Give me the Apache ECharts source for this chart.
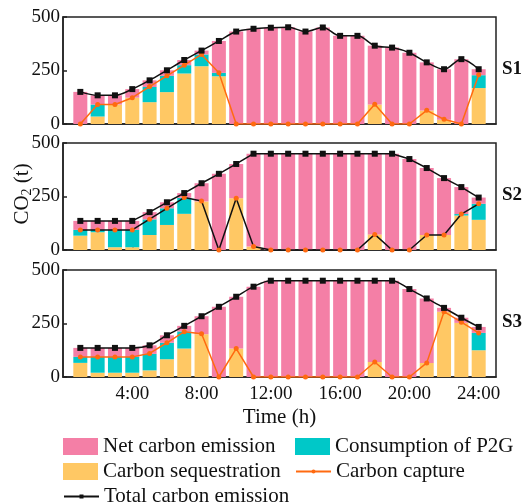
<!DOCTYPE html>
<html>
<head>
<meta charset="utf-8">
<script src="https://cdn.jsdelivr.net/npm/echarts@6/dist/echarts.min.js"></script>
<style>
html, body { margin: 0; padding: 0; background: #fff; }
#chart { width: 523px; height: 504px; }
</style>
</head>
<body>
<div id="chart"></div>
<script>
// x slots 0..25, data lives on hours 1..24
const slots = ['0', '1', '2', '3', '4', '5', '6', '7', '8', '9', '10', '11', '12',
               '13', '14', '15', '16', '17', '18', '19', '20', '21', '22', '23', '24', '25'];

// S1
const s1Seq     = [0, 35, 91, 123, 102, 149, 236, 270, 223, 0, 0, 0, 0, 0, 0, 0, 0, 91, 0, 0, 63, 20, 0, 168];
const s1P2G     = [0, 56, 0, 0, 71, 76, 39, 55, 16, 0, 0, 0, 0, 0, 0, 0, 0, 0, 0, 0, 0, 0, 0, 60];
const s1Net     = [150, 43, 43, 40, 31, 26, 24, 18, 149, 432, 445, 450, 452, 432, 451, 412, 412, 275, 357, 333, 225, 236, 303, 28];
const s1Capture = [0, 91, 91, 123, 175, 225, 275, 325, 239, 0, 0, 0, 0, 0, 0, 0, 0, 92, 0, 0, 64, 22, 0, 230];
const s1Total   = [150, 134, 134, 163, 204, 251, 299, 343, 388, 432, 445, 450, 452, 432, 451, 412, 412, 366, 357, 333, 288, 256, 303, 256];

// S2
const s2Seq     = [67, 83, 13, 13, 70, 117, 169, 227, 0, 242, 16, 0, 0, 0, 0, 0, 0, 73, 0, 0, 70, 70, 161, 141];
const s2P2G     = [27, 11, 81, 81, 73, 78, 75, 0, 0, 0, 0, 0, 0, 0, 0, 0, 0, 0, 0, 0, 0, 0, 7, 75];
const s2Net     = [42, 42, 42, 42, 34, 28, 22, 85, 356, 160, 434, 450, 450, 450, 450, 450, 450, 377, 450, 425, 313, 266, 126, 29];
const s2Capture = [94, 94, 94, 94, 144, 195, 245, 229, 0, 242, 16, 0, 0, 0, 0, 0, 0, 73, 0, 0, 70, 70, 168, 216];
const s2Total   = [136, 136, 136, 136, 177, 223, 266, 312, 356, 402, 450, 450, 450, 450, 450, 450, 450, 450, 450, 425, 383, 336, 294, 245];

// S3
const s3Seq     = [66, 20, 20, 20, 31, 83, 133, 200, 0, 133, 0, 0, 0, 0, 0, 0, 0, 70, 0, 0, 66, 305, 253, 125];
const s3P2G     = [28, 74, 74, 74, 77, 77, 80, 0, 0, 0, 0, 0, 0, 0, 0, 0, 0, 0, 0, 0, 0, 0, 0, 81];
const s3Net     = [42, 42, 42, 42, 40, 35, 26, 84, 328, 242, 422, 450, 450, 450, 450, 450, 450, 380, 450, 411, 301, 18, 24, 28];
const s3Capture = [94, 94, 94, 94, 110, 160, 212, 202, 0, 133, 0, 0, 0, 0, 0, 0, 0, 70, 0, 0, 66, 305, 256, 206];
const s3Total   = [136, 136, 136, 136, 148, 195, 239, 284, 328, 375, 422, 450, 450, 450, 450, 450, 450, 450, 450, 411, 367, 323, 277, 234];

const scenarioNames = ['S1', 'S2', 'S3'];

const FONT = 'Liberation Serif';
const PINK = '#F47FA6';
const CYAN = '#00C8C8';
const YELLOW = '#FFC864';
const ORANGE = '#FF6A10';
const AXIS = '#222';

const panels = [
    { seq: s1Seq, p2g: s1P2G, net: s1Net, cap: s1Capture, tot: s1Total, smooth: true, capLine: ORANGE },
    { seq: s2Seq, p2g: s2P2G, net: s2Net, cap: s2Capture, tot: s2Total, smooth: false, capLine: '#111' },
    { seq: s3Seq, p2g: s3P2G, net: s3Net, cap: s3Capture, tot: s3Total, smooth: true, capLine: ORANGE }
];
const gridTops = [17, 143, 270];
const gridH = 107;

// pad the empty 0 and 25 slots
const pad = arr => [null].concat(arr, [null]);

const chart = echarts.init(document.getElementById('chart'));

const grids = [], xAxes = [], yAxes = [], series = [];
panels.forEach((p, k) => {
    grids.push({
        left: 63, right: 27, top: gridTops[k], height: gridH,
        show: true, borderColor: AXIS, borderWidth: 1.5, backgroundColor: 'transparent'
    });
    xAxes.push({
        type: 'category', gridIndex: k, data: slots, boundaryGap: false,
        axisLine: { show: true, lineStyle: { color: AXIS, width: 1.5 } },
        axisTick: {
            show: true, inside: true, length: 4, lineStyle: { color: AXIS, width: 1.5 },
            interval: i => i > 0 && i < 25 && i % 2 === 0
        },
        axisLabel: {
            show: k === 2, color: '#111', fontFamily: FONT, fontSize: 19, margin: 8,
            interval: i => i > 0 && i < 25 && i % 4 === 0,
            formatter: v => v + ':00'
        },
        splitLine: { show: false },
        name: k === 2 ? 'Time (h)' : '', nameLocation: 'middle', nameGap: 30,
        nameTextStyle: { color: '#111', fontFamily: FONT, fontSize: 21 }
    });
    yAxes.push({
        type: 'value', gridIndex: k, min: 0, max: 500, interval: 250,
        axisLine: { show: true, lineStyle: { color: AXIS, width: 1.5 } },
        axisTick: { show: true, inside: true, length: 4, lineStyle: { color: AXIS, width: 1.5 } },
        axisLabel: { color: '#111', fontFamily: FONT, fontSize: 19, margin: 3 },
        splitLine: { show: false }
    });
    const stackId = 'st' + k;
    series.push({
        name: 'Carbon sequestration', type: 'bar', stack: stackId, xAxisIndex: k, yAxisIndex: k,
        barWidth: 14, itemStyle: { color: YELLOW }, data: pad(p.seq)
    });
    series.push({
        name: 'Consumption of P2G', type: 'bar', stack: stackId, xAxisIndex: k, yAxisIndex: k,
        barWidth: 14, itemStyle: { color: CYAN }, data: pad(p.p2g)
    });
    series.push({
        name: 'Net carbon emission', type: 'bar', stack: stackId, xAxisIndex: k, yAxisIndex: k,
        barWidth: 14, itemStyle: { color: PINK }, data: pad(p.net)
    });
    series.push({
        name: 'Carbon capture', type: 'line', xAxisIndex: k, yAxisIndex: k, z: 5,
        symbol: 'circle', symbolSize: 5,
        lineStyle: { color: p.capLine, width: 1.5 },
        itemStyle: { color: ORANGE },
        data: pad(p.cap)
    });
    series.push({
        name: 'Total carbon emission', type: 'line', xAxisIndex: k, yAxisIndex: k, z: 6,
        smooth: p.smooth ? 0.35 : false,
        symbol: 'rect', symbolSize: 6,
        lineStyle: { color: '#111', width: 1.5 },
        itemStyle: { color: '#111' },
        data: pad(p.tot)
    });
});

const legendText = { fontFamily: FONT, fontSize: 21, color: '#111' };
const barLegend = { itemWidth: 35, itemHeight: 17, itemGap: 3, icon: 'rect', textStyle: legendText };
const lineLegend = { itemWidth: 35, itemHeight: 5, itemGap: 3, textStyle: legendText };

const graphics = scenarioNames.map((s, k) => ({
    type: 'text', left: 502, top: gridTops[k] + gridH / 2 - 11,
    style: { text: s, font: 'bold 19px "Liberation Serif"', fill: '#111' }
}));
// y axis title, rotated, with subscript 2
graphics.push({
    type: 'text', x: 22, y: 194, rotation: Math.PI / 2,
    style: {
        text: '{a|CO}{s|2}{a| (t)}', align: 'center', verticalAlign: 'middle', fill: '#111',
        rich: {
            a: { fontFamily: FONT, fontSize: 21, fill: '#111' },
            s: { fontFamily: FONT, fontSize: 14, fill: '#111', padding: [10, 0, 0, 0] }
        }
    }
});

const option = {
    animation: false,
    grid: grids,
    xAxis: xAxes,
    yAxis: yAxes,
    series: series,
    legend: [
        Object.assign({}, barLegend, { left: 58, top: 431, data: ['Net carbon emission'] }),
        Object.assign({}, barLegend, { left: 290, top: 431, data: ['Consumption of P2G'] }),
        Object.assign({}, barLegend, { left: 58, top: 456, data: ['Carbon sequestration'] }),
        Object.assign({}, lineLegend, { left: 290, top: 456, data: ['Carbon capture'] }),
        Object.assign({}, lineLegend, { left: 58, top: 481, data: ['Total carbon emission'] })
    ],
    graphic: graphics
};
chart.setOption(option);
</script>
</body>
</html>
